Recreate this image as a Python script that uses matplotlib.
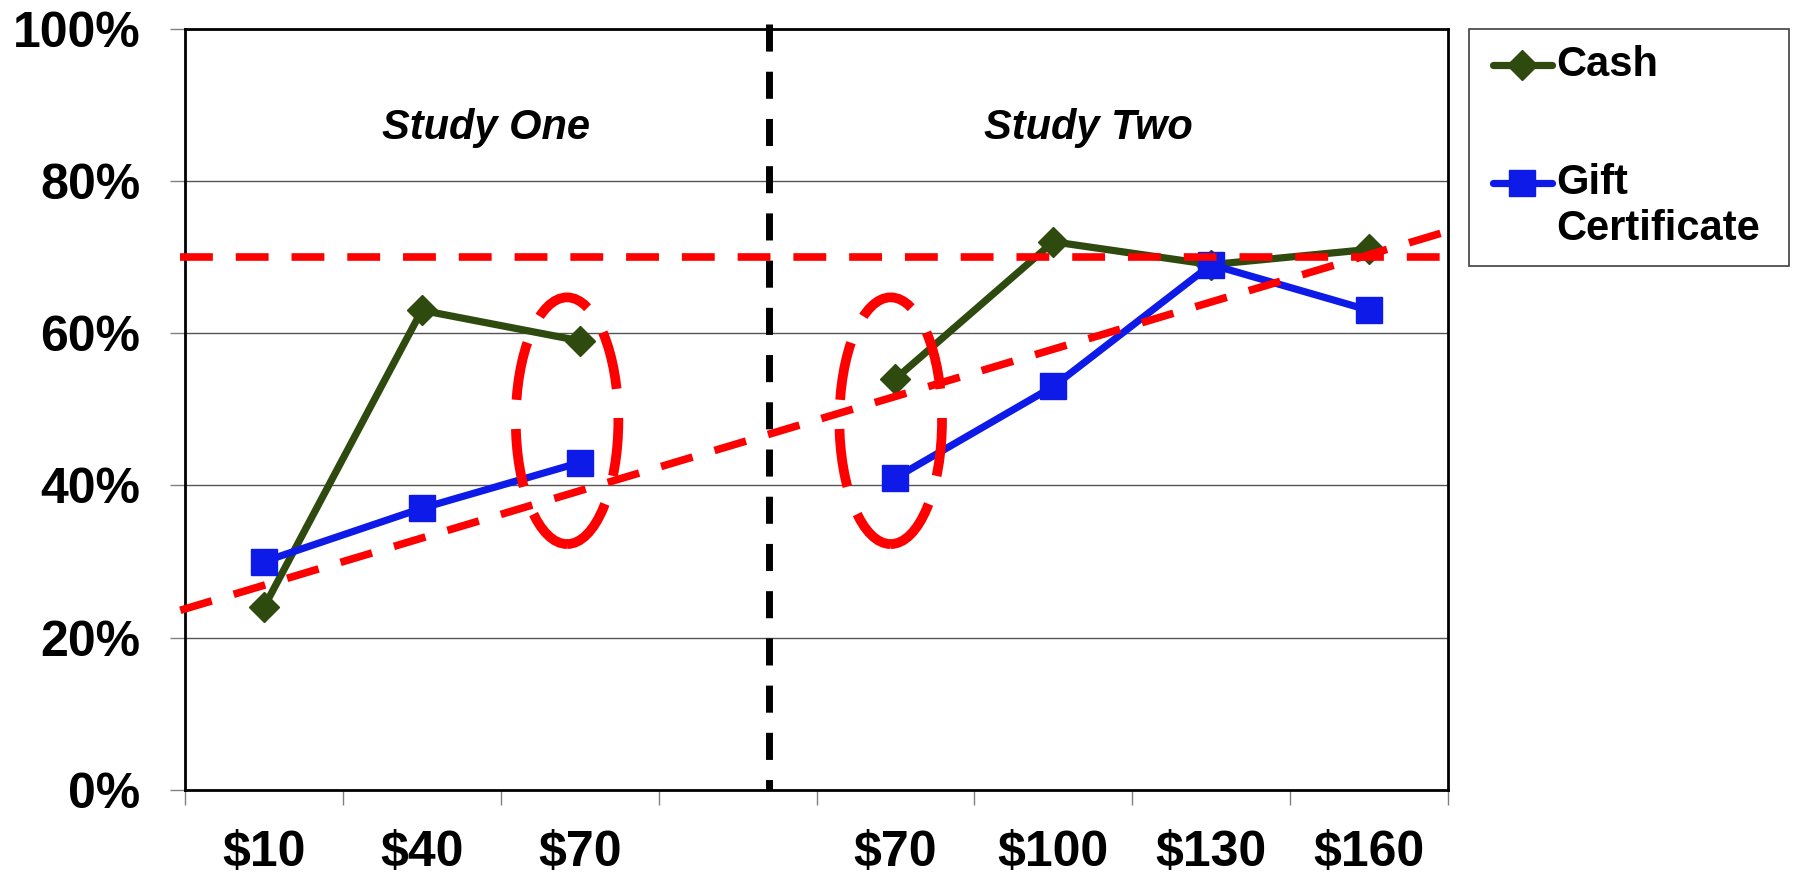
import matplotlib
matplotlib.use("Agg")
import matplotlib.pyplot as plt
import numpy as np
from matplotlib.patches import Ellipse, Rectangle
from matplotlib.lines import Line2D

plt.rcParams['font.family'] = ['Liberation Sans', 'DejaVu Sans']

# ---- data ----
categories = ["$10", "$40", "$70", "", "$70", "$100", "$130", "$160"]
cash = [24, 63, 59, np.nan, 54, 72, 69, 71]
gift = [30, 37, 43, np.nan, 41, 53, 69, 63]
yticks = [0, 20, 40, 60, 80, 100]
ytick_labels = ["0%", "20%", "40%", "60%", "80%", "100%"]
study_labels = ["Study One", "Study Two"]
study_label_pos = [(1.405, 86.9), (5.22, 86.9)]
divider_x = 3.2
threshold_line = ([-0.53, 7.5], [70, 70])
trend_line = ([-0.53, 7.5], [23.6, 73.4])
ellipses = [(1.92, 48.5, 0.65, 32.4), (3.97, 48.5, 0.65, 32.4)]

GREEN = '#2E4A0E'
BLUE = '#0D1AE8'
RED = '#FF0000'
LW = 5.2

W, H = 1793, 877
fig = plt.figure(figsize=(W / 100, H / 100), dpi=100)
ax = fig.add_axes([185 / W, 1 - 790 / H, (1448 - 185) / W, (790 - 28.6) / H])

x = np.arange(len(categories))
ax.plot(x, cash, color=GREEN, lw=LW, marker='D', markersize=15.5, zorder=3)
ax.plot(x, gift, color=BLUE, lw=LW, marker='s', markersize=19, zorder=3)

ax.set_xlim(-0.5, len(categories) - 0.5)
ax.set_ylim(0, 100)

ax.set_yticks(yticks)
ax.set_yticklabels(ytick_labels, fontsize=36, fontweight='bold')
ax.tick_params(axis='y', length=11, width=1, color='#808080', pad=21)
ax.yaxis.grid(True, color='#555555', lw=1)
ax.set_axisbelow(True)

ax.set_xticks(x)
ax.set_xticklabels(categories, fontsize=36, fontweight='bold')
ax.set_xticks(np.arange(-0.5, len(categories)), minor=True)
ax.tick_params(axis='x', which='major', length=0, pad=29)
ax.tick_params(axis='x', which='minor', length=11, width=1, color='#808080')

for s in ax.spines.values():
    s.set_linewidth(2)
    s.set_color('black')

# divider
ax.plot([divider_x, divider_x], [100.6, 0], color='black', lw=5,
        dashes=(3.9, 2.9), clip_on=False, zorder=4, solid_capstyle='butt')

# red annotation lines
ax.plot(*threshold_line, color=RED, lw=5.5, dashes=(4.3, 3.0), clip_on=False, zorder=5)
ax.plot(*trend_line, color=RED, lw=5.5, dashes=(4.3, 3.0), clip_on=False, zorder=5)
for (cx, cy, w, h) in ellipses:
    e = Ellipse((cx, cy), w, h, fill=False, edgecolor=RED, lw=7,
                linestyle=(0, (6, 3)), zorder=5)
    ax.add_patch(e)

for lab, (tx, ty) in zip(study_labels, study_label_pos):
    ax.text(tx, ty, lab, ha='center', va='center', fontsize=30,
            fontweight='bold', fontstyle='italic')

# legend (manual)
fig.patches.append(Rectangle((1469 / W, 1 - 266 / H), 320 / W, 237 / H,
                             transform=fig.transFigure, fill=True,
                             facecolor='white', edgecolor='#404040', lw=1.2, zorder=1))
def fx(px):
    return px / W
def fy(py):
    return 1 - py / H
for (py, col, mk, ms) in [(65, GREEN, 'D', 15.5), (183, BLUE, 's', 19)]:
    fig.lines.append(Line2D([fx(1493), fx(1552)], [fy(py), fy(py)], color=col, lw=LW,
                            solid_capstyle='round', transform=fig.transFigure))
    fig.lines.append(Line2D([fx(1522)], [fy(py)], color=col, marker=mk, markersize=ms,
                            transform=fig.transFigure))
fig.text(fx(1556), fy(65), "Cash", ha='left', va='center', fontsize=30, fontweight='bold')
fig.text(fx(1556), fy(183), "Gift", ha='left', va='center', fontsize=30, fontweight='bold')
fig.text(fx(1556), fy(229), "Certificate", ha='left', va='center', fontsize=30, fontweight='bold')

fig.savefig("out.png", dpi=100)
